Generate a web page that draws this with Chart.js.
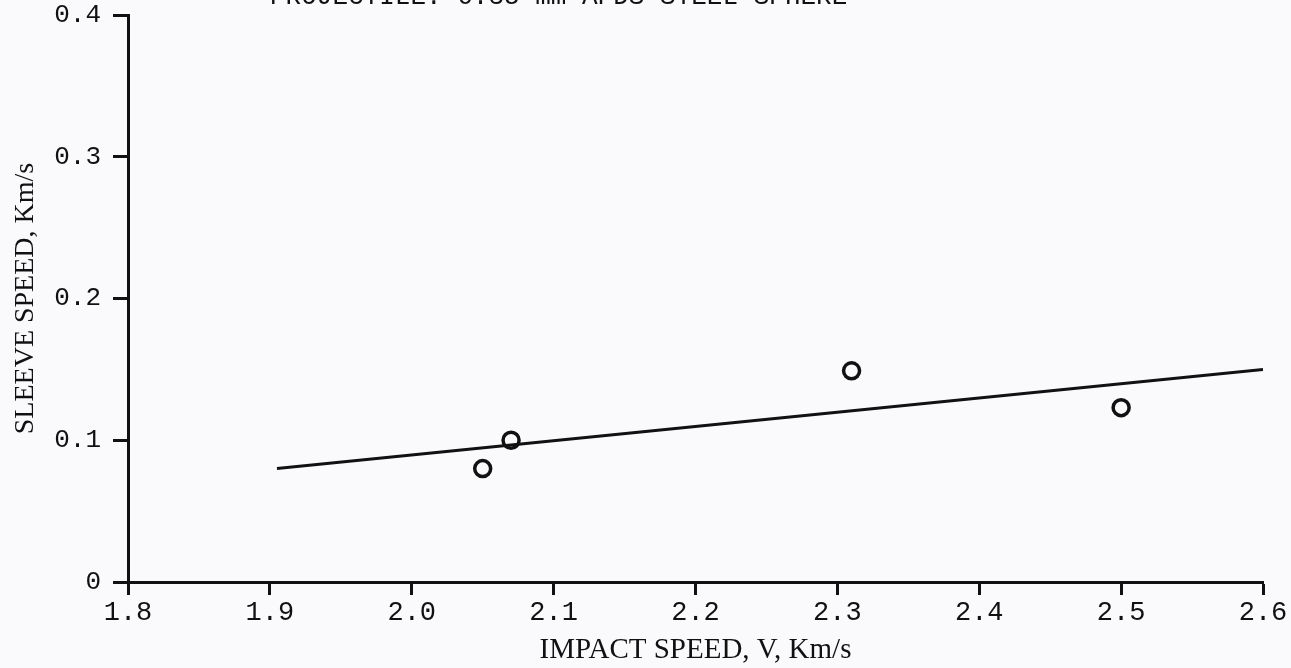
<!DOCTYPE html>
<html lang="en">
<head>
    <meta charset="UTF-8">
    <title>Sleeve Speed vs Impact Speed</title>
    <style>
        body {
            margin: 0;
            padding: 0;
            background: #fafafc;
            overflow: hidden;
        }
        #wrap {
            width: 1291px;
            height: 668px;
            position: relative;
        }
    </style>
</head>
<body>
    <div id="wrap"><canvas id="speedChart"></canvas></div>
    <script src="https://cdn.jsdelivr.net/npm/chart.js@4.4.0/dist/chart.umd.min.js"></script>
    <script>
        // measured points
        const impactSpeed = [2.05, 2.07, 2.31, 2.50];
        const sleeveSpeed = [0.080, 0.100, 0.149, 0.123];
        // straight fitted line
        const fitX = [1.905, 2.60];
        const fitY = [0.080, 0.150];
        // tick labels
        const xTicks = [1.8, 1.9, 2.0, 2.1, 2.2, 2.3, 2.4, 2.5, 2.6];
        const yTicks = [0, 0.1, 0.2, 0.3, 0.4];
        const xTitle = 'IMPACT SPEED, V, Km/s';
        const yTitle = 'SLEEVE SPEED, Km/s';
        const topTitle = 'PROJECTILE: 6.35 mm APDS STEEL SPHERE';

        const monoFont = "'Liberation Mono', 'DejaVu Sans Mono', monospace";
        const serifFont = "'Liberation Serif', 'DejaVu Serif', serif";

        // the heading is cut off at the top edge of the scan
        const cutTitle = {
            id: 'cutTitle',
            afterDraw(chart) {
                const ctx = chart.ctx;
                ctx.save();
                ctx.fillStyle = '#111';
                ctx.font = "26px " + monoFont;
                ctx.textAlign = 'left';
                ctx.textBaseline = 'alphabetic';
                ctx.fillText(topTitle, 270, 4);
                ctx.restore();
            }
        };

        const ctx = document.getElementById('speedChart').getContext('2d');
        const chart = new Chart(ctx, {
            type: 'scatter',
            data: {
                datasets: [
                    {
                        label: 'fit',
                        data: fitX.map((x, i) => ({ x: x, y: fitY[i] })),
                        showLine: true,
                        borderColor: '#111',
                        borderWidth: 3,
                        pointRadius: 0,
                        fill: false
                    },
                    {
                        label: 'data',
                        data: impactSpeed.map((x, i) => ({ x: x, y: sleeveSpeed[i] })),
                        pointStyle: 'circle',
                        pointRadius: 8,
                        pointBorderWidth: 3.5,
                        pointBorderColor: '#111',
                        pointBackgroundColor: '#fafafc'
                    }
                ]
            },
            options: {
                responsive: true,
                maintainAspectRatio: false,
                animation: false,
                layout: {
                    padding: { left: 0, right: 28, top: 15, bottom: 0 }
                },
                plugins: {
                    legend: { display: false },
                    tooltip: { enabled: false }
                },
                scales: {
                    x: {
                        type: 'linear',
                        min: xTicks[0],
                        max: xTicks[xTicks.length - 1],
                        afterBuildTicks: scale => {
                            scale.ticks = xTicks.map(v => ({ value: v }));
                        },
                        afterFit: scale => {
                            scale.height = 86;
                            scale.paddingLeft = 0;
                            scale.paddingRight = 0;
                        },
                        ticks: {
                            color: '#111',
                            font: { family: monoFont, size: 27 },
                            padding: 2,
                            maxRotation: 0,
                            callback: v => Number(v).toFixed(1)
                        },
                        grid: {
                            drawOnChartArea: false,
                            drawTicks: true,
                            tickLength: 13,
                            tickWidth: 3,
                            color: '#111'
                        },
                        border: { display: true, color: '#111', width: 3 },
                        title: {
                            display: true,
                            text: xTitle,
                            color: '#111',
                            font: { family: serifFont, size: 29 },
                            padding: { top: 0, bottom: 0 }
                        }
                    },
                    y: {
                        type: 'linear',
                        min: yTicks[0],
                        max: yTicks[yTicks.length - 1],
                        afterBuildTicks: scale => {
                            scale.ticks = yTicks.map(v => ({ value: v }));
                        },
                        afterFit: scale => {
                            scale.width = 128;
                            scale.paddingTop = 0;
                            scale.paddingBottom = 0;
                        },
                        ticks: {
                            color: '#111',
                            font: { family: monoFont, size: 26 },
                            padding: 12,
                            callback: v => (v === 0 ? '0' : Number(v).toFixed(1))
                        },
                        grid: {
                            drawOnChartArea: false,
                            drawTicks: true,
                            tickLength: 15,
                            tickWidth: 3,
                            color: '#111'
                        },
                        border: { display: true, color: '#111', width: 3 },
                        title: {
                            display: true,
                            text: yTitle,
                            color: '#111',
                            font: { family: serifFont, size: 28 },
                            padding: { top: 9, bottom: 0 }
                        }
                    }
                }
            },
            plugins: [cutTitle]
        });
    </script>
</body>
</html>
